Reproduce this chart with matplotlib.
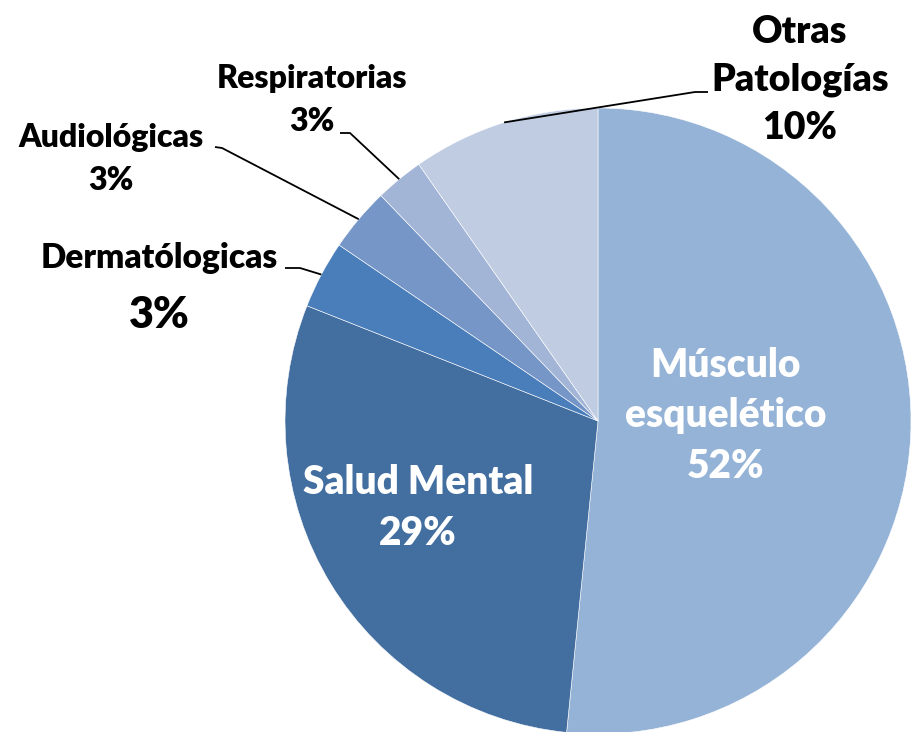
import numpy as np
import matplotlib.pyplot as plt

# slice shares (clockwise from 12 o'clock)
names = ['Músculo esquelético', 'Salud Mental', 'Dermatólogicas',
         'Audiológicas', 'Respiratorias', 'Otras Patologías']
shares = [51.6, 29.4, 3.5, 3.3, 2.5, 9.7]
pct_labels = ['52%', '29%', '3%', '3%', '3%', '10%']
colors = ['#95B3D7', '#436EA0', '#4A7EBB', '#7596C7', '#A3B5D7', '#C0CCE2']

plt.rcParams['font.family'] = ['Lato', 'DejaVu Sans']
plt.rcParams['font.weight'] = 'heavy'

W, H = 911, 732
cx, cy, R = 598, 421, 313  # pie centre and radius in pixels


def px(x, y):
    # pixel position -> data coords (pie radius = 1)
    return (x - cx) / R, (cy - y) / R


fig = plt.figure(figsize=(W / 100, H / 100), dpi=100)
ax = fig.add_axes([0, 0, 1, 1])

wedges, _ = ax.pie(shares, colors=colors, startangle=90, counterclock=False,
                   radius=1, center=(0, 0), frame=True,
                   wedgeprops=dict(edgecolor='white', linewidth=0.4))
ax.set_xlim(-cx / R, (W - cx) / R)
ax.set_ylim(-(H - cy) / R, cy / R)
ax.set_aspect('equal')
ax.axis('off')

# labels inside the two big slices
ax.text(*px(726, 416), names[0].replace(' ', '\n') + '\n' + pct_labels[0],
        color='white', fontsize=28, ha='center', va='center', linespacing=1.45)
ax.text(*px(418, 508), names[1] + '\n' + pct_labels[1],
        color='white', fontsize=28, ha='center', va='center', linespacing=1.45)

# leader lines: from the rim at the slice middle to an elbow near the label
elbows = {
    2: [(285, 268), (300, 268)],
    3: [(215, 147), (222, 148)],
    4: [(340, 133), (350, 133)],
    5: [(708, 92), (695, 92)],
}
for idx, elbow in elbows.items():
    w = wedges[idx]
    mid = np.deg2rad((w.theta1 + w.theta2) / 2)
    pts = [px(*p) for p in elbow] + [(np.cos(mid), np.sin(mid))]
    xs, ys = zip(*pts)
    ax.plot(xs, ys, color='black', lw=1.3, solid_capstyle='butt')

ax.text(*px(159, 258), names[2], fontsize=24, ha='center', va='center')
ax.text(*px(159, 315), pct_labels[2], fontsize=31, ha='center', va='center')
ax.text(*px(111, 159), names[3] + '\n' + pct_labels[3], fontsize=23,
        ha='center', va='center', linespacing=1.6)
ax.text(*px(312, 100), names[4] + '\n' + pct_labels[4], fontsize=23,
        ha='center', va='center', linespacing=1.6)
ax.text(*px(800, 80), 'Otras\nPatologías\n' + pct_labels[5], fontsize=27,
        ha='center', va='center', linespacing=1.5)

fig.savefig('out.png', dpi=100)
